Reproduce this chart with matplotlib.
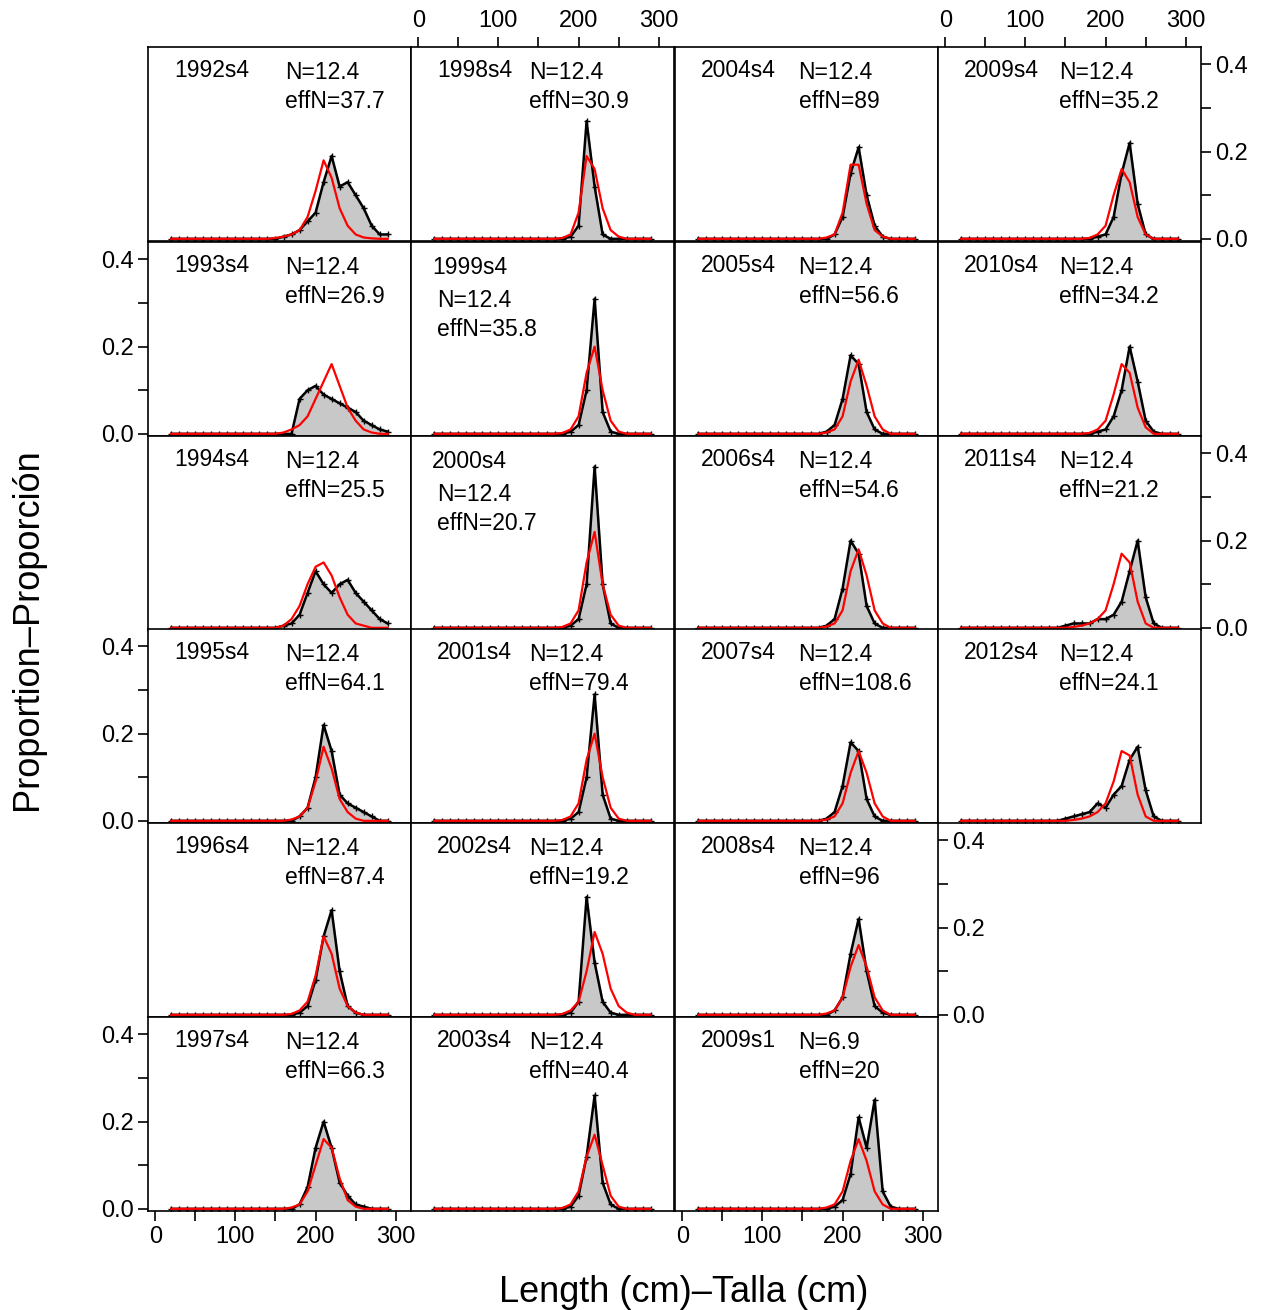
import numpy as np
import matplotlib
matplotlib.use("Agg")
import matplotlib.pyplot as plt

plt.rcParams['font.family'] = ['Liberation Sans', 'DejaVu Sans']

bins = np.arange(20, 295, 10)
# values given for bins 150..290, lower bins are zero
start = 150

names = ["1992s4", "1993s4", "1994s4", "1995s4", "1996s4", "1997s4",
         "1998s4", "1999s4", "2000s4", "2001s4", "2002s4", "2003s4",
         "2004s4", "2005s4", "2006s4", "2007s4", "2008s4", "2009s1",
         "2009s4", "2010s4", "2011s4", "2012s4"]
n_vals = ["12.4"] * 17 + ["6.9"] + ["12.4"] * 4
effn = ["37.7", "26.9", "25.5", "64.1", "87.4", "66.3",
        "30.9", "35.8", "20.7", "79.4", "19.2", "40.4",
        "89", "56.6", "54.6", "108.6", "96", "20",
        "35.2", "34.2", "21.2", "24.1"]

obs = [
    [0, 0.005, 0.01, 0.02, 0.04, 0.06, 0.13, 0.19, 0.12, 0.13, 0.10, 0.07, 0.03, 0.01, 0.01],
    [0, 0, 0, 0.08, 0.10, 0.11, 0.09, 0.08, 0.07, 0.06, 0.05, 0.03, 0.02, 0.01, 0.005],
    [0, 0.005, 0.01, 0.03, 0.08, 0.13, 0.10, 0.08, 0.10, 0.11, 0.08, 0.06, 0.04, 0.02, 0.01],
    [0, 0, 0, 0.01, 0.03, 0.10, 0.22, 0.16, 0.06, 0.04, 0.03, 0.02, 0.01, 0, 0],
    [0, 0, 0, 0.005, 0.02, 0.08, 0.18, 0.24, 0.10, 0.02, 0.005, 0, 0, 0, 0],
    [0, 0, 0, 0.01, 0.05, 0.14, 0.20, 0.14, 0.06, 0.03, 0.01, 0.005, 0, 0, 0],
    [0, 0, 0, 0, 0.005, 0.03, 0.27, 0.12, 0.01, 0, 0, 0, 0, 0, 0],
    [0, 0, 0, 0, 0.005, 0.02, 0.10, 0.31, 0.05, 0.005, 0, 0, 0, 0, 0],
    [0, 0, 0, 0, 0.005, 0.02, 0.10, 0.37, 0.10, 0.01, 0, 0, 0, 0, 0],
    [0, 0, 0, 0, 0.005, 0.02, 0.10, 0.29, 0.06, 0.005, 0, 0, 0, 0, 0],
    [0, 0, 0, 0, 0.005, 0.03, 0.27, 0.12, 0.03, 0.005, 0, 0, 0, 0, 0],
    [0, 0, 0, 0, 0.005, 0.03, 0.12, 0.26, 0.06, 0.01, 0, 0, 0, 0, 0],
    [0, 0, 0, 0, 0.01, 0.05, 0.15, 0.21, 0.10, 0.03, 0.005, 0, 0, 0, 0],
    [0, 0, 0, 0.005, 0.02, 0.08, 0.18, 0.16, 0.05, 0.01, 0, 0, 0, 0, 0],
    [0, 0, 0, 0.005, 0.02, 0.09, 0.20, 0.17, 0.05, 0.01, 0, 0, 0, 0, 0],
    [0, 0, 0, 0.005, 0.02, 0.08, 0.18, 0.16, 0.05, 0.01, 0, 0, 0, 0, 0],
    [0, 0, 0, 0, 0.01, 0.04, 0.14, 0.22, 0.10, 0.02, 0.005, 0, 0, 0, 0],
    [0, 0, 0, 0, 0.005, 0.02, 0.08, 0.21, 0.14, 0.25, 0.04, 0.005, 0, 0, 0],
    [0, 0, 0, 0, 0.005, 0.01, 0.05, 0.15, 0.22, 0.08, 0.01, 0, 0, 0, 0],
    [0, 0, 0, 0, 0.005, 0.01, 0.04, 0.10, 0.20, 0.12, 0.03, 0.005, 0, 0, 0],
    [0.005, 0.01, 0.01, 0.01, 0.02, 0.02, 0.03, 0.06, 0.13, 0.20, 0.07, 0.01, 0, 0, 0],
    [0.005, 0.01, 0.015, 0.02, 0.04, 0.03, 0.06, 0.08, 0.14, 0.17, 0.07, 0.01, 0, 0, 0],
]
exp = [
    [0.002, 0.005, 0.01, 0.02, 0.05, 0.11, 0.18, 0.14, 0.07, 0.03, 0.01, 0.003, 0.001, 0, 0],
    [0, 0.003, 0.01, 0.02, 0.04, 0.08, 0.12, 0.16, 0.11, 0.06, 0.03, 0.01, 0.003, 0, 0],
    [0, 0.005, 0.02, 0.05, 0.10, 0.14, 0.15, 0.12, 0.07, 0.03, 0.01, 0.005, 0, 0, 0],
    [0, 0, 0.003, 0.01, 0.03, 0.09, 0.17, 0.12, 0.05, 0.02, 0.005, 0, 0, 0, 0],
    [0, 0, 0.002, 0.01, 0.03, 0.09, 0.18, 0.14, 0.06, 0.02, 0.005, 0, 0, 0, 0],
    [0, 0, 0.003, 0.01, 0.04, 0.10, 0.16, 0.14, 0.07, 0.02, 0.005, 0, 0, 0, 0],
    [0, 0, 0, 0.002, 0.01, 0.06, 0.19, 0.16, 0.07, 0.02, 0.005, 0, 0, 0, 0],
    [0, 0, 0, 0.002, 0.01, 0.04, 0.14, 0.20, 0.10, 0.03, 0.005, 0, 0, 0, 0],
    [0, 0, 0, 0.002, 0.01, 0.04, 0.15, 0.22, 0.10, 0.03, 0.005, 0, 0, 0, 0],
    [0, 0, 0, 0.002, 0.01, 0.04, 0.14, 0.20, 0.10, 0.03, 0.005, 0, 0, 0, 0],
    [0, 0, 0, 0.002, 0.01, 0.03, 0.10, 0.19, 0.14, 0.06, 0.02, 0.005, 0, 0, 0],
    [0, 0, 0, 0.002, 0.01, 0.04, 0.12, 0.17, 0.10, 0.03, 0.005, 0, 0, 0, 0],
    [0, 0, 0, 0.003, 0.01, 0.06, 0.17, 0.17, 0.08, 0.02, 0.005, 0, 0, 0, 0],
    [0, 0, 0, 0.003, 0.01, 0.04, 0.12, 0.17, 0.11, 0.04, 0.01, 0, 0, 0, 0],
    [0, 0, 0, 0.003, 0.01, 0.04, 0.13, 0.18, 0.12, 0.04, 0.01, 0, 0, 0, 0],
    [0, 0, 0, 0.003, 0.01, 0.04, 0.11, 0.16, 0.11, 0.04, 0.01, 0, 0, 0, 0],
    [0, 0, 0, 0.003, 0.01, 0.04, 0.11, 0.16, 0.11, 0.04, 0.01, 0, 0, 0, 0],
    [0, 0, 0, 0.003, 0.01, 0.04, 0.11, 0.16, 0.11, 0.04, 0.01, 0, 0, 0, 0],
    [0, 0, 0, 0.002, 0.01, 0.03, 0.10, 0.16, 0.13, 0.05, 0.01, 0, 0, 0, 0],
    [0, 0, 0, 0.002, 0.01, 0.03, 0.09, 0.16, 0.14, 0.06, 0.015, 0, 0, 0, 0],
    [0, 0.002, 0.005, 0.01, 0.02, 0.04, 0.10, 0.17, 0.15, 0.06, 0.01, 0, 0, 0, 0],
    [0, 0.002, 0.005, 0.01, 0.02, 0.04, 0.09, 0.16, 0.15, 0.06, 0.01, 0, 0, 0, 0],
]

# panel grid position (col, row) for each name
cols = [0] * 6 + [1] * 6 + [2] * 6 + [3] * 4
rows = list(range(6)) * 3 + list(range(4))

W, H = 1266, 1310
fig = plt.figure(figsize=(W / 100, H / 100), dpi=100)
col_left = [148, 411, 675, 938]
row_top = [47, 242, 436, 629, 823, 1017]
pw, ph = 263, 194
n_x = [0.52, 0.45, 0.47, 0.46]

n_rows_col = [6, 6, 6, 4]
for i, name in enumerate(names):
    c, r = cols[i], rows[i]
    ax = fig.add_axes([col_left[c] / W, 1 - (row_top[r] + ph) / H, pw / W, ph / H])
    o = np.zeros(len(bins))
    e = np.zeros(len(bins))
    k = list(bins).index(start)
    o[k:] = obs[i]
    e[k:] = exp[i]
    ax.fill_between(bins, o, 0, color="#c8c8c8")
    ax.plot(bins, o, color="black", lw=1.8, marker="+", ms=4, mew=1)
    ax.plot(bins, e, color="red", lw=1.6)
    ax.set_xlim(-9, 319)
    ax.set_ylim(-0.005, 0.44)
    for s in ax.spines.values():
        s.set_linewidth(1.2)
    ax.tick_params(which="both", direction="out", labelsize=17, width=1.2)
    ax.tick_params(which="major", length=7)
    ax.tick_params(which="minor", length=7)

    # x ticks
    top = (r == 0 and c in (1, 3))
    bottom = (r == n_rows_col[c] - 1 and c in (0, 2))
    ax.set_xticks([0, 100, 200, 300])
    ax.set_xticks([50, 150, 250], minor=True)
    ax.tick_params(axis="x", which="both", bottom=bottom, labelbottom=bottom,
                   top=top, labeltop=top)
    # y ticks
    left = (c == 0 and r in (1, 3, 5))
    right = (c == 3 and r in (0, 2)) or (c == 2 and r == 4)
    ax.set_yticks([0.0, 0.2, 0.4])
    ax.set_yticks([0.1, 0.3], minor=True)
    ax.set_yticklabels(["0.0", "0.2", "0.4"])
    ax.tick_params(axis="y", which="both", left=left, labelleft=left,
                   right=right, labelright=right)

    # labels
    fs = 16.5
    if name in ("1999s4", "2000s4"):
        ax.text(0.08, 0.93, name, transform=ax.transAxes, fontsize=fs, va="top")
        ax.text(0.1, 0.76, "N=" + n_vals[i], transform=ax.transAxes, fontsize=fs, va="top")
        ax.text(0.1, 0.61, "effN=" + effn[i], transform=ax.transAxes, fontsize=fs, va="top")
    else:
        ax.text(0.1, 0.94, name, transform=ax.transAxes, fontsize=fs, va="top")
        ax.text(n_x[c], 0.93, "N=" + n_vals[i], transform=ax.transAxes, fontsize=fs, va="top")
        ax.text(n_x[c], 0.78, "effN=" + effn[i], transform=ax.transAxes, fontsize=fs, va="top")

fig.text(0.54, 0.0, "Length (cm)\u2013Talla (cm)", ha="center", va="bottom", fontsize=26)
fig.text(0.008, 0.52, "Proportion\u2013Proporción", ha="left", va="center",
         rotation=90, fontsize=26)

fig.savefig("out.png", dpi=100)
